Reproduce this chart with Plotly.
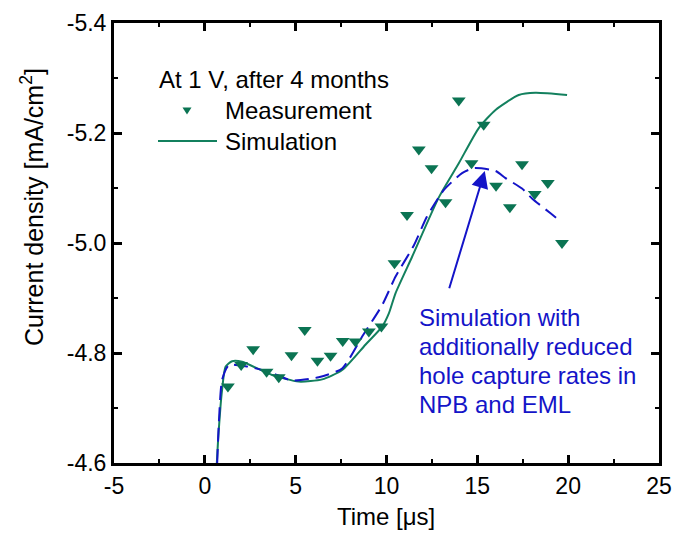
import plotly.graph_objects as go

# ---- data ----
meas_t = [1.27, 2.00, 2.66, 3.40, 4.07, 4.77, 5.50, 6.20, 6.92, 7.59, 8.29, 9.03, 9.72,
          10.44, 11.13, 11.78, 12.48, 13.25, 13.98, 14.68, 15.35, 16.03, 16.79, 17.46,
          18.16, 18.88, 19.66]
meas_j = [-4.739, -4.778, -4.807, -4.766, -4.756, -4.796, -4.842, -4.786, -4.795, -4.822,
          -4.821, -4.839, -4.848, -4.963, -5.051, -5.170, -5.136, -5.074, -5.259, -5.145,
          -5.215, -5.104, -5.065, -5.143, -5.089, -5.109, -5.000]

sim_t = [0.66, 0.73, 0.86, 0.95, 1.14, 1.50, 2.05, 3.70, 5.17, 6.46, 7.56, 8.84, 9.76,
         10.13, 10.50, 11.41, 12.88, 13.98, 15.08, 16.00, 17.28, 18.20, 19.94]
sim_j = [-4.600, -4.642, -4.702, -4.733, -4.775, -4.785, -4.784, -4.760, -4.748, -4.752,
         -4.769, -4.815, -4.848, -4.872, -4.909, -4.975, -5.083, -5.145, -5.209, -5.242,
         -5.269, -5.273, -5.269]

red_t = [0.68, 0.77, 0.95, 1.32, 2.24, 3.52, 4.80, 6.27, 7.56, 8.66, 9.76, 10.50, 11.51,
         12.23, 13.15, 14.16, 14.80, 16.00, 16.55, 17.46, 18.01, 19.03, 19.58]
red_j = [-4.600, -4.672, -4.751, -4.778, -4.776, -4.766, -4.750, -4.756, -4.772, -4.830,
         -4.887, -4.939, -4.996, -5.048, -5.096, -5.127, -5.136, -5.131, -5.118, -5.099,
         -5.081, -5.054, -5.039]

x_ticks = [-5, 0, 5, 10, 15, 20, 25]
x_labels = ["-5", "0", "5", "10", "15", "20", "25"]
y_ticks = [-5.4, -5.2, -5.0, -4.8, -4.6]
y_labels = ["-5.4", "-5.2", "-5.0", "-4.8", "-4.6"]

legend_title = "At 1 V, after 4 months"
name_meas = "Measurement"
name_sim = "Simulation"
note_lines = ["Simulation with", "additionally reduced", "hole capture rates in", "NPB and EML"]
arrow_tip = (15.41, -5.131)
arrow_tail = (13.43, -4.915)

GREEN = "#0b7453"
LINE_GREEN = "#13805e"
BLUE = "#1414c8"
FONT = "Liberation Sans, Arial, sans-serif"

fig = go.Figure()
fig.add_trace(go.Scatter(x=sim_t, y=sim_j, mode="lines", name=name_sim,
                         line=dict(color=LINE_GREEN, width=2, shape="spline", smoothing=0.6)))
fig.add_trace(go.Scatter(x=red_t, y=red_j, mode="lines", name="reduced",
                         line=dict(color=BLUE, width=2, dash="14px,7px", shape="spline", smoothing=0.6)))
fig.add_trace(go.Scatter(x=meas_t, y=meas_j, mode="markers", name=name_meas,
                         marker=dict(symbol="triangle-down", size=12, color=GREEN,
                                     line=dict(width=0))))
# empty trace so the overlay axes (used for minor ticks) form a drawn subplot
fig.add_trace(go.Scatter(x=[], y=[], xaxis="x2", yaxis="y2", showlegend=False, hoverinfo="skip"))

FIG_W, FIG_H = 675, 533
L, R, T, B = 114, 659, 23, 463          # plot area in page pixels

main_axis = dict(showline=True, linewidth=3, linecolor="black", mirror="allticks",
                 ticks="inside", ticklen=8, tickwidth=3, tickcolor="black",
                 showgrid=False, zeroline=False, automargin=False,
                 ticklabeloverflow="allow",
                 tickfont=dict(family=FONT, size=23, color="black"))
minor_axis = dict(showline=True, linewidth=3, linecolor="black", mirror="allticks",
                  ticks="inside", ticklen=4, tickwidth=2, tickcolor="black",
                  showgrid=False, zeroline=False, automargin=False, showticklabels=False,
                  tickmode="linear")

fig.update_layout(
    xaxis=dict(range=[-5, 25], tickmode="array", tickvals=x_ticks, ticktext=x_labels, **main_axis),
    yaxis=dict(range=[-4.6, -5.4], tickmode="array", tickvals=y_ticks, ticktext=y_labels, **main_axis),
    xaxis2=dict(range=[-5, 25], overlaying="x", anchor="y", side="bottom",
                tick0=-2.5, dtick=5, **minor_axis),
    yaxis2=dict(range=[-4.6, -5.4], overlaying="y", anchor="x", side="left",
                tick0=-5.3, dtick=0.2, **minor_axis),
)

def px2paper(px, py):
    return (px - L) / float(R - L), (B - py) / float(B - T)

annotations = []
xp, yp = px2paper(32, 207)
annotations.append(dict(text="Current density [mA/cm<sup>2</sup>]", xref="paper", yref="paper",
                        x=xp, y=yp, textangle=-90, showarrow=False, xanchor="center", yanchor="middle",
                        font=dict(family=FONT, size=25, color="black")))
xp, yp = px2paper(386, 516)
annotations.append(dict(text="Time [μs]", xref="paper", yref="paper",
                        x=xp, y=yp, showarrow=False, xanchor="center", yanchor="middle",
                        font=dict(family=FONT, size=24, color="black")))
for txt, (px, py) in [(legend_title, (157, 80)), (name_meas, (223, 111)), (name_sim, (223, 141))]:
    xp, yp = px2paper(px, py)
    annotations.append(dict(text=txt, xref="paper", yref="paper", x=xp, y=yp, showarrow=False,
                            xanchor="left", yanchor="middle",
                            font=dict(family=FONT, size=24, color="black")))
for i, line in enumerate(note_lines):
    xp, yp = px2paper(417, 317 + 29 * i)
    annotations.append(dict(text=line, xref="paper", yref="paper", x=xp, y=yp, showarrow=False,
                            xanchor="left", yanchor="middle",
                            font=dict(family=FONT, size=24, color=BLUE)))
annotations.append(dict(x=arrow_tip[0], y=arrow_tip[1], ax=arrow_tail[0], ay=arrow_tail[1],
                        xref="x", yref="y", axref="x", ayref="y", text="", showarrow=True,
                        arrowhead=2, arrowsize=1.7, arrowwidth=2, arrowcolor=BLUE))

shapes = []
x0, y0 = px2paper(158, 141)
x1, _ = px2paper(217, 141)
shapes.append(dict(type="line", xref="paper", yref="paper", x0=x0, x1=x1, y0=y0, y1=y0,
                   line=dict(color=LINE_GREEN, width=2)))
ax0, ay0 = px2paper(182.5, 107.5)
ax1, _ = px2paper(191.5, 107.5)
axm, ayb = px2paper(187, 114.5)
shapes.append(dict(type="path", xref="paper", yref="paper",
                   path=f"M {ax0} {ay0} L {ax1} {ay0} L {axm} {ayb} Z",
                   fillcolor=GREEN, line=dict(width=0)))

fig.update_layout(width=FIG_W, height=FIG_H,
                  margin=dict(l=L, r=FIG_W - R, t=T, b=FIG_H - B, pad=0),
                  paper_bgcolor="white", plot_bgcolor="white", showlegend=False,
                  font=dict(family=FONT, size=24, color="black"),
                  annotations=annotations, shapes=shapes)

fig.write_html("out.html", config={"displayModeBar": False},
               post_script="document.body.style.margin='0px';document.body.style.overflow='hidden';")
